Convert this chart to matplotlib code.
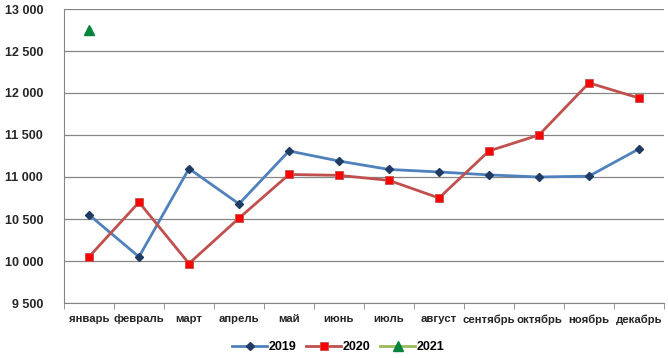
import matplotlib
matplotlib.use("Agg")
import matplotlib.pyplot as plt
from matplotlib.ticker import FuncFormatter
import numpy as np

plt.rcParams["font.family"] = ["Liberation Sans", "DejaVu Sans"]

months = ["январь", "февраль", "март", "апрель", "май", "июнь", "июль",
          "август", "сентябрь", "октябрь", "ноябрь", "декабрь"]
v2019 = [10550, 10050, 11100, 10680, 11310, 11190, 11090, 11060, 11025, 11000, 11010, 11335]
v2020 = [10050, 10700, 9970, 10510, 11030, 11020, 10960, 10750, 11310, 11500, 12120, 11940]
v2021 = [12750]

fig = plt.figure(figsize=(6.68, 3.58), dpi=100)
ax = fig.add_axes([64/668, 55/358, 600/668, 294/358])

x = np.arange(len(months))
ax.plot(x, v2019, color="#4F81BD", lw=2.0, marker="D", ms=4.5,
        mfc="#1F3B64", mec="#1F3B64", label="2019", zorder=3)
ax.plot(x, v2020, color="#C0504D", lw=2.0, marker="s", ms=5.5,
        mfc="#FF0000", mec="#C0504D", mew=0.6, label="2020", zorder=3)
ax.plot(x[:len(v2021)], v2021, color="#9BBB59", lw=2.0, marker="^", ms=6.5,
        mfc="#00843D", mec="#00843D", label="2021", zorder=3)

ax.set_xlim(-0.5, 11.5)
ax.set_ylim(9500, 13000)
ax.set_yticks(np.arange(9500, 13001, 500))
ax.yaxis.set_major_formatter(FuncFormatter(lambda v, p: f"{int(v):,}".replace(",", " ")))
ax.set_xticks(x)
ax.set_xticklabels(months)
ax.set_xticks(np.arange(-0.5, 12, 1), minor=True)
ax.tick_params(axis="x", which="major", length=0, pad=8)
ax.tick_params(axis="x", which="minor", length=4, color="#868686")
ax.tick_params(axis="y", length=0, pad=15)
for lbl in ax.get_xticklabels():
    lbl.set_fontsize(8.2)
    lbl.set_fontweight("bold")
    lbl.set_color("#262626")
for lbl in ax.get_yticklabels():
    lbl.set_fontsize(9)
    lbl.set_fontweight("bold")
    lbl.set_color("#262626")

ax.grid(axis="y", color="#868686", lw=0.9)
ax.set_axisbelow(True)
for s in ["top", "right"]:
    ax.spines[s].set_visible(False)
ax.spines["left"].set_color("#868686")
ax.spines["bottom"].set_color("#868686")

leg = ax.legend(loc="center", bbox_to_anchor=(274/600, -44/294), ncol=3, frameon=False,
                prop={"size": 9, "weight": "bold"}, handlelength=2.8, columnspacing=0.8,
                handletextpad=0.1)

fig.savefig("out.png", dpi=100)
